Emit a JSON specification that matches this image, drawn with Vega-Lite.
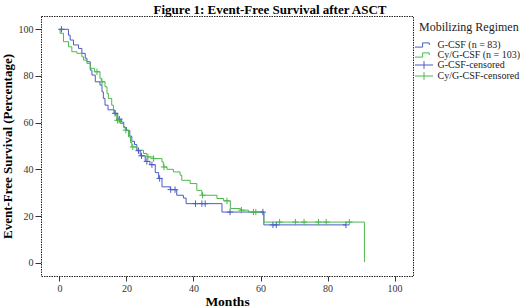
{
  "$schema": "https://vega.github.io/schema/vega-lite/v6.json",
  "width": 372,
  "height": 260,
  "autosize": {"type": "none"},
  "padding": {"left": 41, "top": 16, "right": 107, "bottom": 32},
  "background": "white",
  "title": {
    "text": "Figure 1: Event-Free Survival after ASCT",
    "font": "Liberation Serif",
    "fontSize": 13,
    "fontWeight": "bold",
    "color": "#000000",
    "anchor": "middle",
    "dx": 43,
    "offset": 0,
    "dy": 1
  },
  "config": {
    "view": {"stroke": "#222222", "strokeWidth": 1, "strokeDash": [1.5, 1]},
    "font": "Liberation Serif"
  },
  "datasets": {
    "curves": [
      {"series": "G-CSF (n = 83)", "month": 0, "pct": 100},
      {"series": "G-CSF (n = 83)", "month": 2.7, "pct": 97.5},
      {"series": "G-CSF (n = 83)", "month": 3.2, "pct": 95.4},
      {"series": "G-CSF (n = 83)", "month": 4.2, "pct": 93.3},
      {"series": "G-CSF (n = 83)", "month": 5.7, "pct": 91.8},
      {"series": "G-CSF (n = 83)", "month": 6.7, "pct": 89.7},
      {"series": "G-CSF (n = 83)", "month": 7.7, "pct": 87.6},
      {"series": "G-CSF (n = 83)", "month": 8.2, "pct": 86.1},
      {"series": "G-CSF (n = 83)", "month": 9.2, "pct": 82.5},
      {"series": "G-CSF (n = 83)", "month": 9.7, "pct": 80.4},
      {"series": "G-CSF (n = 83)", "month": 10.7, "pct": 77.5},
      {"series": "G-CSF (n = 83)", "month": 12.1, "pct": 76.1},
      {"series": "G-CSF (n = 83)", "month": 12.7, "pct": 73.2},
      {"series": "G-CSF (n = 83)", "month": 13.1, "pct": 70.4},
      {"series": "G-CSF (n = 83)", "month": 13.6, "pct": 67.5},
      {"series": "G-CSF (n = 83)", "month": 14.5, "pct": 65.5},
      {"series": "G-CSF (n = 83)", "month": 16.3, "pct": 64},
      {"series": "G-CSF (n = 83)", "month": 17.4, "pct": 61.5},
      {"series": "G-CSF (n = 83)", "month": 18.5, "pct": 60.2},
      {"series": "G-CSF (n = 83)", "month": 19.2, "pct": 58},
      {"series": "G-CSF (n = 83)", "month": 20, "pct": 56.6},
      {"series": "G-CSF (n = 83)", "month": 21, "pct": 54.2},
      {"series": "G-CSF (n = 83)", "month": 21.6, "pct": 52},
      {"series": "G-CSF (n = 83)", "month": 22.4, "pct": 50.6},
      {"series": "G-CSF (n = 83)", "month": 23.1, "pct": 48},
      {"series": "G-CSF (n = 83)", "month": 24.1, "pct": 45.8},
      {"series": "G-CSF (n = 83)", "month": 25.6, "pct": 43.4},
      {"series": "G-CSF (n = 83)", "month": 27, "pct": 42},
      {"series": "G-CSF (n = 83)", "month": 28.6, "pct": 38.6},
      {"series": "G-CSF (n = 83)", "month": 29.6, "pct": 36.1},
      {"series": "G-CSF (n = 83)", "month": 30.6, "pct": 32.5},
      {"series": "G-CSF (n = 83)", "month": 33.1, "pct": 31.3},
      {"series": "G-CSF (n = 83)", "month": 35, "pct": 28.9},
      {"series": "G-CSF (n = 83)", "month": 37, "pct": 27.7},
      {"series": "G-CSF (n = 83)", "month": 37.8, "pct": 25.3},
      {"series": "G-CSF (n = 83)", "month": 48.5, "pct": 21.7},
      {"series": "G-CSF (n = 83)", "month": 61, "pct": 16.2},
      {"series": "G-CSF (n = 83)", "month": 85.5, "pct": 16.2},
      {"series": "Cy/G-CSF (n = 103)", "month": 0, "pct": 100},
      {"series": "Cy/G-CSF (n = 103)", "month": 0.2, "pct": 98.3},
      {"series": "Cy/G-CSF (n = 103)", "month": 1.2, "pct": 94.7},
      {"series": "Cy/G-CSF (n = 103)", "month": 2.7, "pct": 92.5},
      {"series": "Cy/G-CSF (n = 103)", "month": 3.7, "pct": 90.4},
      {"series": "Cy/G-CSF (n = 103)", "month": 5.2, "pct": 89.7},
      {"series": "Cy/G-CSF (n = 103)", "month": 6.7, "pct": 88.2},
      {"series": "Cy/G-CSF (n = 103)", "month": 7.2, "pct": 86.8},
      {"series": "Cy/G-CSF (n = 103)", "month": 8.2, "pct": 85.4},
      {"series": "Cy/G-CSF (n = 103)", "month": 9.2, "pct": 83.3},
      {"series": "Cy/G-CSF (n = 103)", "month": 10.5, "pct": 81.8},
      {"series": "Cy/G-CSF (n = 103)", "month": 12.1, "pct": 79},
      {"series": "Cy/G-CSF (n = 103)", "month": 12.5, "pct": 77.5},
      {"series": "Cy/G-CSF (n = 103)", "month": 13.6, "pct": 75.4},
      {"series": "Cy/G-CSF (n = 103)", "month": 14.2, "pct": 72.5},
      {"series": "Cy/G-CSF (n = 103)", "month": 14.6, "pct": 70.4},
      {"series": "Cy/G-CSF (n = 103)", "month": 15.6, "pct": 67.5},
      {"series": "Cy/G-CSF (n = 103)", "month": 16.1, "pct": 65.4},
      {"series": "Cy/G-CSF (n = 103)", "month": 16.6, "pct": 63.5},
      {"series": "Cy/G-CSF (n = 103)", "month": 17.1, "pct": 61},
      {"series": "Cy/G-CSF (n = 103)", "month": 18.2, "pct": 59.6},
      {"series": "Cy/G-CSF (n = 103)", "month": 19.1, "pct": 58.2},
      {"series": "Cy/G-CSF (n = 103)", "month": 19.6, "pct": 56.8},
      {"series": "Cy/G-CSF (n = 103)", "month": 20.6, "pct": 53.9},
      {"series": "Cy/G-CSF (n = 103)", "month": 21.2, "pct": 51.5},
      {"series": "Cy/G-CSF (n = 103)", "month": 21.6, "pct": 49.6},
      {"series": "Cy/G-CSF (n = 103)", "month": 23.1, "pct": 48.2},
      {"series": "Cy/G-CSF (n = 103)", "month": 25.1, "pct": 46.8},
      {"series": "Cy/G-CSF (n = 103)", "month": 26.1, "pct": 45.3},
      {"series": "Cy/G-CSF (n = 103)", "month": 28.1, "pct": 44.6},
      {"series": "Cy/G-CSF (n = 103)", "month": 30.6, "pct": 43.2},
      {"series": "Cy/G-CSF (n = 103)", "month": 31, "pct": 41},
      {"series": "Cy/G-CSF (n = 103)", "month": 32.1, "pct": 40},
      {"series": "Cy/G-CSF (n = 103)", "month": 34, "pct": 38.9},
      {"series": "Cy/G-CSF (n = 103)", "month": 36, "pct": 37.5},
      {"series": "Cy/G-CSF (n = 103)", "month": 36.5, "pct": 35.3},
      {"series": "Cy/G-CSF (n = 103)", "month": 39, "pct": 33.9},
      {"series": "Cy/G-CSF (n = 103)", "month": 41, "pct": 31},
      {"series": "Cy/G-CSF (n = 103)", "month": 42.5, "pct": 28.9},
      {"series": "Cy/G-CSF (n = 103)", "month": 47, "pct": 27.5},
      {"series": "Cy/G-CSF (n = 103)", "month": 49, "pct": 26.5},
      {"series": "Cy/G-CSF (n = 103)", "month": 51, "pct": 23.2},
      {"series": "Cy/G-CSF (n = 103)", "month": 54, "pct": 22.5},
      {"series": "Cy/G-CSF (n = 103)", "month": 56.4, "pct": 21.7},
      {"series": "Cy/G-CSF (n = 103)", "month": 61, "pct": 17.4},
      {"series": "Cy/G-CSF (n = 103)", "month": 91, "pct": 0.3}
    ],
    "censors": [
      {"series": "G-CSF-censored", "month": 0.6, "pct": 100},
      {"series": "G-CSF-censored", "month": 16.6, "pct": 64},
      {"series": "G-CSF-censored", "month": 17.9, "pct": 61.5},
      {"series": "G-CSF-censored", "month": 23.6, "pct": 48},
      {"series": "G-CSF-censored", "month": 24.5, "pct": 45.8},
      {"series": "G-CSF-censored", "month": 26.1, "pct": 43.4},
      {"series": "G-CSF-censored", "month": 27.6, "pct": 42},
      {"series": "G-CSF-censored", "month": 29.9, "pct": 36.1},
      {"series": "G-CSF-censored", "month": 33.2, "pct": 31.3},
      {"series": "G-CSF-censored", "month": 34.5, "pct": 31.3},
      {"series": "G-CSF-censored", "month": 40.6, "pct": 25.3},
      {"series": "G-CSF-censored", "month": 42.5, "pct": 25.3},
      {"series": "G-CSF-censored", "month": 43.5, "pct": 25.3},
      {"series": "G-CSF-censored", "month": 50.9, "pct": 21.7},
      {"series": "G-CSF-censored", "month": 60.7, "pct": 21.7},
      {"series": "G-CSF-censored", "month": 63.7, "pct": 16.2},
      {"series": "G-CSF-censored", "month": 64.7, "pct": 16.2},
      {"series": "G-CSF-censored", "month": 85.5, "pct": 16.2},
      {"series": "Cy/G-CSF-censored", "month": 11.2, "pct": 81.8},
      {"series": "Cy/G-CSF-censored", "month": 12.7, "pct": 77.5},
      {"series": "Cy/G-CSF-censored", "month": 17.3, "pct": 61},
      {"series": "Cy/G-CSF-censored", "month": 17.8, "pct": 61},
      {"series": "Cy/G-CSF-censored", "month": 19.8, "pct": 56.8},
      {"series": "Cy/G-CSF-censored", "month": 21.9, "pct": 49.6},
      {"series": "Cy/G-CSF-censored", "month": 26.4, "pct": 45.3},
      {"series": "Cy/G-CSF-censored", "month": 28.1, "pct": 44.6},
      {"series": "Cy/G-CSF-censored", "month": 31.2, "pct": 41},
      {"series": "Cy/G-CSF-censored", "month": 42.7, "pct": 28.9},
      {"series": "Cy/G-CSF-censored", "month": 50, "pct": 26.5},
      {"series": "Cy/G-CSF-censored", "month": 54.3, "pct": 22.5},
      {"series": "Cy/G-CSF-censored", "month": 57.9, "pct": 21.7},
      {"series": "Cy/G-CSF-censored", "month": 58.6, "pct": 21.7},
      {"series": "Cy/G-CSF-censored", "month": 65.7, "pct": 17.4},
      {"series": "Cy/G-CSF-censored", "month": 70.4, "pct": 17.4},
      {"series": "Cy/G-CSF-censored", "month": 73, "pct": 17.4},
      {"series": "Cy/G-CSF-censored", "month": 77.3, "pct": 17.4},
      {"series": "Cy/G-CSF-censored", "month": 79.6, "pct": 17.4},
      {"series": "Cy/G-CSF-censored", "month": 86.5, "pct": 17.4}
    ]
  },
  "encoding": {
    "x": {
      "field": "month",
      "type": "quantitative",
      "scale": {"domain": [-5.5, 105.5], "nice": false, "zero": false},
      "axis": {
        "values": [0, 20, 40, 60, 80, 100],
        "domain": false,
        "grid": false,
        "ticks": true,
        "tickSize": 5,
        "tickColor": "#333333",
        "labelFont": "Liberation Serif",
        "labelFontSize": 10,
        "labelColor": "#333333",
        "labelPadding": 2,
        "title": "Months",
        "titleFont": "Liberation Serif",
        "titleFontSize": 13.5,
        "titleFontWeight": "bold",
        "titleColor": "#000000",
        "titlePadding": 1
      }
    },
    "y": {
      "field": "pct",
      "type": "quantitative",
      "scale": {"domain": [-5.7, 105.7], "nice": false, "zero": false},
      "axis": {
        "values": [0, 20, 40, 60, 80, 100],
        "domain": false,
        "grid": false,
        "ticks": true,
        "tickSize": 6,
        "tickColor": "#333333",
        "labelFont": "Liberation Serif",
        "labelFontSize": 10,
        "labelColor": "#333333",
        "labelPadding": 2,
        "title": "Event-Free Survival (Percentage)",
        "titleFont": "Liberation Serif",
        "titleFontSize": 13,
        "titleFontWeight": "bold",
        "titleColor": "#000000",
        "titlePadding": 4
      }
    },
    "color": {
      "field": "series",
      "type": "nominal",
      "scale": {
        "domain": ["G-CSF (n = 83)", "Cy/G-CSF (n = 103)", "G-CSF-censored", "Cy/G-CSF-censored"],
        "range": ["#4b5cc4", "#4cb84c", "#4b5cc4", "#4cb84c"]
      },
      "legend": {
        "title": "Mobilizing Regimen",
        "orient": "none",
        "legendX": 378,
        "legendY": 6,
        "titleFont": "Liberation Serif",
        "titleFontSize": 12,
        "titleFontWeight": "normal",
        "titleColor": "#222222",
        "titlePadding": 6,
        "labelFont": "Liberation Serif",
        "labelFontSize": 10,
        "labelColor": "#222222",
        "labelOffset": 8.5,
        "rowPadding": -1,
        "symbolSize": 49,
        "symbolStrokeWidth": 1,
        "encode": {
          "symbols": {
            "update": {
              "shape": {"signal": "indexof(['G-CSF (n = 83)', 'Cy/G-CSF (n = 103)'], datum.value) >= 0 ? 'M-2.6,0.6H-0.4V-0.6H1.5V0' : 'M-2.6,0H2.6M0,-1.1V1.1'"},
              "fill": {"value": "transparent"},
              "strokeWidth": {"value": 1}
            }
          }
        }
      }
    }
  },
  "layer": [
    {
      "data": {"name": "curves"},
      "mark": {"type": "line", "interpolate": "step-after", "strokeWidth": 1}
    },
    {
      "data": {"name": "censors"},
      "mark": {
        "type": "point",
        "filled": false,
        "shape": "M-1,0H1M0,-1V1",
        "size": 40,
        "strokeWidth": 1,
        "opacity": 1
      }
    }
  ]
}
